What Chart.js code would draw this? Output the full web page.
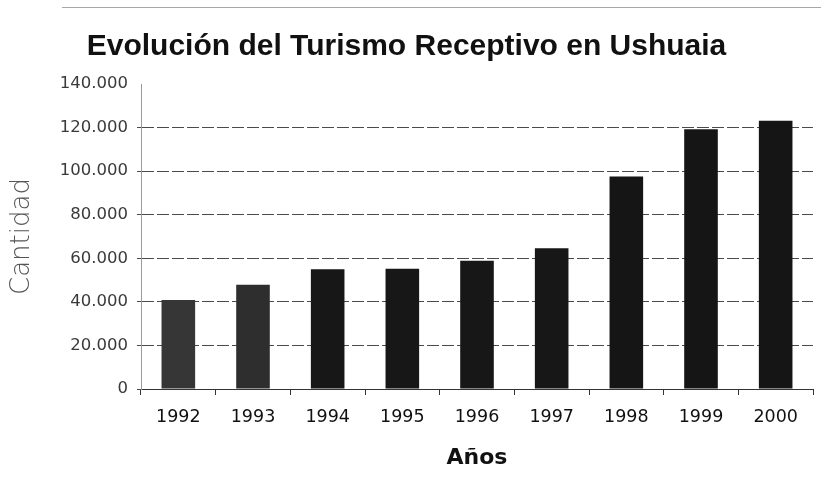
<!DOCTYPE html>
<html>
<head>
<meta charset="utf-8">
<script src="https://cdn.jsdelivr.net/npm/chart.js@4/dist/chart.umd.min.js"></script>
<style>
  html, body { margin: 0; padding: 0; background: #fff; }
  #wrap { position: relative; width: 821px; height: 479px; }
  #rule { position: absolute; top: 7px; left: 62px; width: 759px; border-top: 1px solid #a8a8a8; }
  canvas { position: absolute; left: 0; top: 0; }
</style>
</head>
<body>
<div id="wrap">
  <div id="rule"></div>
  <canvas id="c" width="821" height="479"></canvas>
</div>
<script>
// Visitantes recibidos por año
const years = ['1992', '1993', '1994', '1995', '1996', '1997', '1998', '1999', '2000'];
const visitors = [40800, 47900, 55000, 55200, 58900, 64600, 97500, 119200, 123100];
const barColors = ['#363636', '#2e2e2e', '#171717', '#171717', '#171717', '#171717', '#151515', '#151515', '#151515'];

// Marcas del eje vertical
const yTickValues = [0, 20000, 40000, 60000, 80000, 100000, 120000, 140000];
const yTickLabels = ['0', '20.000', '40.000', '60.000', '80.000', '100.000', '120.000', '140.000'];

const chartTitle = 'Evolución del Turismo Receptivo en Ushuaia';
const xTitle = 'Años';
const yTitle = 'Cantidad';

new Chart(document.getElementById('c'), {
  type: 'bar',
  data: {
    labels: years,
    datasets: [{
      data: visitors,
      backgroundColor: barColors,
      borderWidth: 0,
      barPercentage: 0.45,
      categoryPercentage: 1.0
    }]
  },
  options: {
    responsive: false,
    animation: false,
    layout: { padding: { left: 0, right: 8, top: 0, bottom: 0 } },
    plugins: {
      legend: { display: false },
      tooltip: { enabled: false },
      title: {
        display: true,
        text: chartTitle,
        color: '#111',
        font: { family: '"Liberation Sans", Arial, sans-serif', size: 30, weight: 'bold', lineHeight: 1.2 },
        padding: { top: 29, bottom: 19 }
      }
    },
    scales: {
      x: {
        afterFit: (s) => { s.height = 90; },
        grid: {
          offset: true,
          drawOnChartArea: false,
          drawTicks: true,
          tickLength: 6,
          color: '#333'
        },
        border: { display: true, color: '#333', width: 1 },
        ticks: {
          color: '#111',
          padding: 12,
          font: { family: '"DejaVu Sans", sans-serif', size: 17.5 }
        },
        title: {
          display: true,
          text: xTitle,
          color: '#111',
          font: { family: '"DejaVu Sans", sans-serif', size: 22, weight: 'bold', lineHeight: 1.2 },
          padding: { top: 0, bottom: 8 }
        }
      },
      y: {
        min: 0,
        max: 140000,
        afterFit: (s) => { s.width = 141; },
        afterBuildTicks: (s) => { s.ticks = yTickValues.map(v => ({ value: v })); },
        grid: {
          drawTicks: true,
          tickLength: 4,
          lineWidth: 1,
          color: (ctx) => (ctx.tick && ctx.tick.value === 140000) ? 'rgba(0,0,0,0)' : '#4a4a4a'
        },
        border: { display: true, color: '#9a9a9a', width: 1, dash: [12, 3] },
        ticks: {
          color: '#3a3a3a',
          padding: 9,
          font: { family: '"DejaVu Sans", sans-serif', size: 16.5 },
          callback: (value) => {
            const i = yTickValues.indexOf(value);
            return i >= 0 ? yTickLabels[i] : '';
          }
        },
        title: {
          display: true,
          text: yTitle,
          color: '#555',
          font: { family: '"DejaVu Sans", sans-serif', size: 26, weight: '300', lineHeight: 1.2 },
          padding: { top: 7, bottom: 0 }
        }
      }
    }
  }
});
</script>
</body>
</html>
